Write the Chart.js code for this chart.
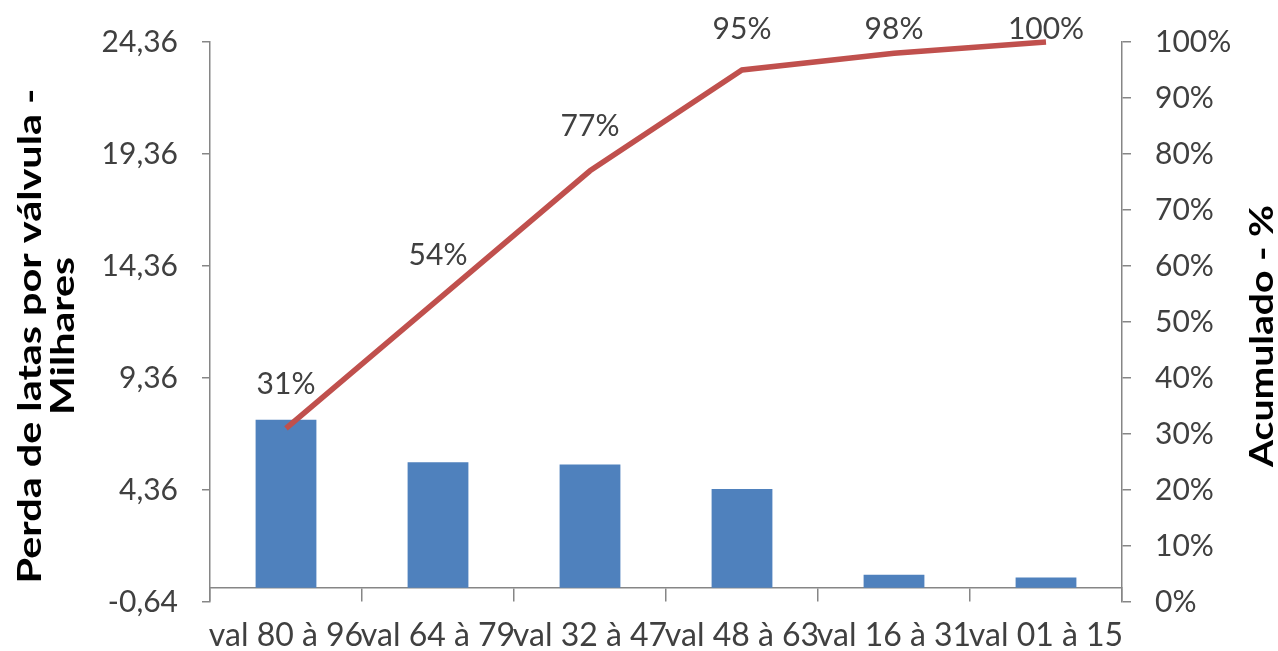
<!DOCTYPE html>
<html>
<head>
<meta charset="utf-8">
<script src="https://cdn.jsdelivr.net/npm/chart.js@4.4.1/dist/chart.umd.min.js"></script>
<style>
  html, body { margin: 0; padding: 0; background: #fff; overflow: hidden; }
  #wrap { width: 1278px; height: 651px; position: relative; }
</style>
</head>
<body>
<div id="wrap"><canvas id="pareto" width="1278" height="651"></canvas></div>
<script>
// Pareto de perdas de latas por grupo de válvulas
const categorias = ['val 80 à 96', 'val 64 à 79', 'val 32 à 47', 'val 48 à 63', 'val 16 à 31', 'val 01 à 15'];
const perdaMilhares = [7.5, 5.6, 5.5, 4.4, 0.58, 0.45];
const acumuladoPct = [31, 54, 77, 95, 98, 100];
const ticksPerda = [-0.64, 4.36, 9.36, 14.36, 19.36, 24.36];
const ticksAcumulado = [0, 10, 20, 30, 40, 50, 60, 70, 80, 90, 100];

const FAMILIA = 'Lato, "Open Sans", "DejaVu Sans", sans-serif';
const COR_TEXTO = '#404040';
const COR_EIXO = '#868686';

// Rótulos de percentual acima de cada ponto da linha acumulada
const rotulosAcumulado = {
  id: 'rotulosAcumulado',
  afterDatasetsDraw(chart) {
    const meta = chart.getDatasetMeta(0);
    const ctx = chart.ctx;
    ctx.save();
    ctx.font = '30px ' + FAMILIA;
    ctx.fillStyle = COR_TEXTO;
    ctx.textAlign = 'center';
    ctx.textBaseline = 'middle';
    meta.data.forEach((pt, i) => {
      const y = Math.max(pt.y - 44, 29);
      ctx.fillText(acumuladoPct[i] + '%', pt.x, y);
    });
    ctx.restore();
  }
};

// Títulos dos eixos (texto girado, lido de baixo para cima, alongado até o comprimento desejado)
const titulosEixos = {
  id: 'titulosEixos',
  afterDraw(chart) {
    const ctx = chart.ctx;
    const area = chart.chartArea;
    const cy = (area.top + area.bottom) / 2 + 14;
    ctx.save();
    ctx.font = 'bold 33px ' + FAMILIA;
    ctx.fillStyle = '#000';
    ctx.textAlign = 'center';
    ctx.textBaseline = 'middle';
    const escrever = (texto, x, comprimento) => {
      const sx = comprimento / ctx.measureText(texto).width;
      ctx.save();
      ctx.translate(x, cy);
      ctx.rotate(-Math.PI / 2);
      ctx.scale(sx, 1);
      ctx.fillText(texto, 0, 0);
      ctx.restore();
    };
    escrever('Perda de latas por válvula -', 30, 495);
    escrever('Milhares', 63, 158);
    escrever('Acumulado - %', 1262, 262);
    ctx.restore();
  }
};

const fonteTicks = { family: FAMILIA, size: 30 };

new Chart(document.getElementById('pareto'), {
  data: {
    labels: categorias,
    datasets: [
      {
        type: 'line',
        label: 'Acumulado - %',
        data: acumuladoPct,
        yAxisID: 'y1',
        borderColor: '#C0504D',
        borderWidth: 5.5,
        pointRadius: 0,
        tension: 0,
        clip: false,
        order: 0
      },
      {
        type: 'bar',
        label: 'Perda de latas por válvula',
        data: perdaMilhares,
        yAxisID: 'y',
        backgroundColor: '#4F81BD',
        barPercentage: 0.4,
        categoryPercentage: 1,
        order: 1
      }
    ]
  },
  options: {
    responsive: false,
    animation: false,
    layout: { padding: { top: 42, bottom: 49, left: 0, right: 0 } },
    plugins: { legend: { display: false }, tooltip: { enabled: false } },
    scales: {
      x: {
        position: { y: 0 },
        offset: true,
        grid: { drawOnChartArea: false, tickLength: 13, color: COR_EIXO, lineWidth: 1.5, offset: true },
        border: { color: COR_EIXO, width: 1.5 },
        ticks: { font: { family: FAMILIA, size: 32 }, color: COR_TEXTO, autoSkip: false, maxRotation: 0, minRotation: 0, padding: 16 }
      },
      y: {
        position: 'left',
        min: ticksPerda[0],
        max: ticksPerda[ticksPerda.length - 1],
        afterBuildTicks: (s) => { s.ticks = ticksPerda.map(v => ({ value: v })); },
        afterFit: (s) => { s.width = 210; },
        grid: { drawOnChartArea: false, tickLength: 8, color: COR_EIXO, lineWidth: 1.5 },
        border: { color: COR_EIXO, width: 1.5 },
        ticks: {
          font: fonteTicks, color: COR_TEXTO, padding: 24,
          callback: (v) => Number(v).toFixed(2).replace('.', ',')
        }
      },
      y1: {
        position: 'right',
        min: 0,
        max: 100,
        afterBuildTicks: (s) => { s.ticks = ticksAcumulado.map(v => ({ value: v })); },
        afterFit: (s) => { s.width = 156; },
        grid: { drawOnChartArea: false, tickLength: 9, color: COR_EIXO, lineWidth: 1.5 },
        border: { color: COR_EIXO, width: 1.5 },
        ticks: { font: fonteTicks, color: COR_TEXTO, padding: 24, callback: (v) => v + '%' }
      }
    }
  },
  plugins: [rotulosAcumulado, titulosEixos]
});
</script>
</body>
</html>
